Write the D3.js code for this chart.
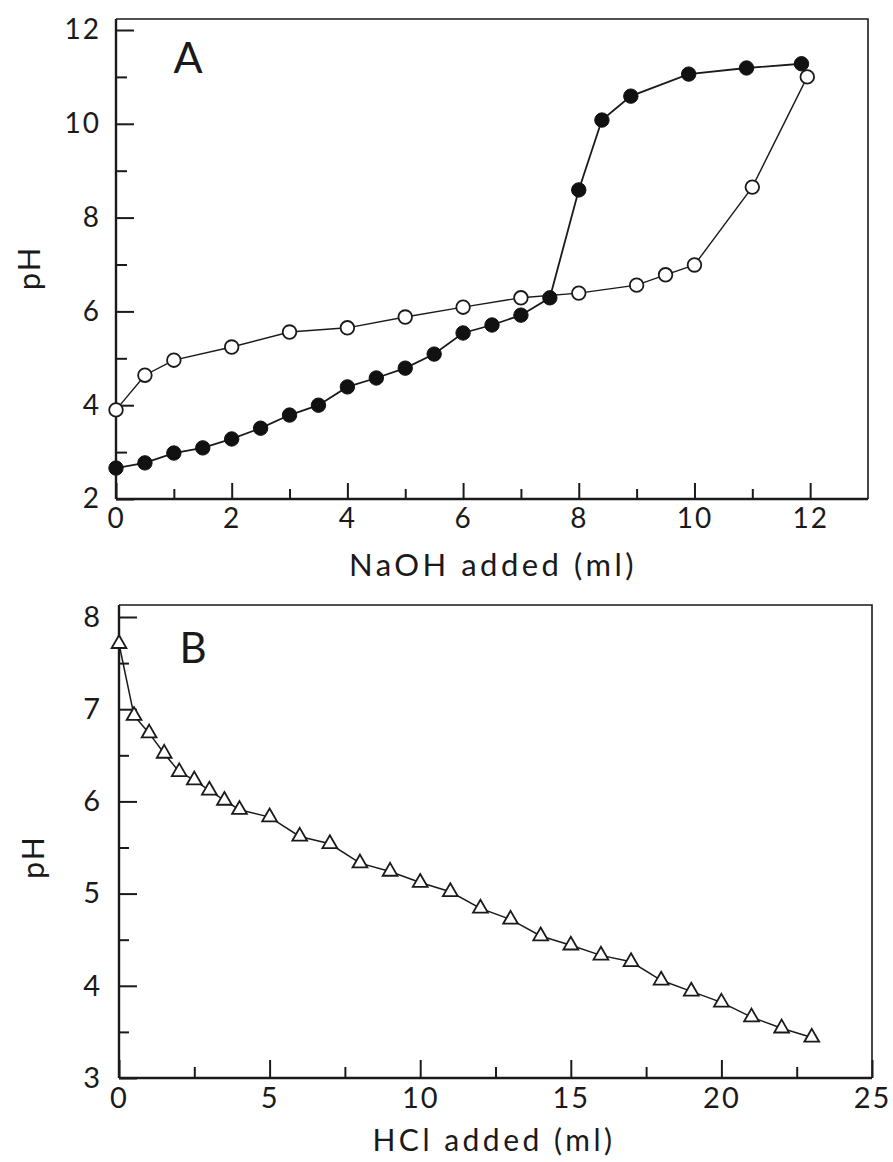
<!DOCTYPE html>
<html>
<head>
<meta charset="utf-8">
<script src="https://cdn.jsdelivr.net/npm/d3@7"></script>
<style>
  html, body { margin: 0; padding: 0; background: #fff; }
  svg { display: block; }
  text { font-family: Lato, "Open Sans", sans-serif; fill: #1a1a1a; }
</style>
</head>
<body>
<svg id="chart" width="893" height="1162"></svg>
<script>
// ---------- Panel A data ----------
const naohFilledX = [0, 0.5, 1, 1.5, 2, 2.5, 3, 3.5, 4, 4.5, 5, 5.5, 6, 6.5, 7, 7.5, 8, 8.4, 8.9, 9.9, 10.9, 11.85];
const naohFilledPH = [2.66, 2.77, 2.98, 3.09, 3.28, 3.51, 3.79, 4.0, 4.39, 4.58, 4.79, 5.09, 5.54, 5.71, 5.92, 6.29, 8.59, 10.08, 10.59, 11.06, 11.19, 11.28];
const naohOpenX = [0, 0.5, 1, 2, 3, 4, 5, 6, 7, 8, 9, 9.5, 10, 11, 11.95];
const naohOpenPH = [3.9, 4.64, 4.96, 5.24, 5.56, 5.65, 5.88, 6.09, 6.29, 6.39, 6.56, 6.78, 6.99, 8.65, 11.0];
const aXTicks = [0, 2, 4, 6, 8, 10, 12];
const aXMinor = [1, 3, 5, 7, 9, 11];
const aYTicks = [2, 4, 6, 8, 10, 12];
const aYMinor = [3, 5, 7, 9, 11];

// ---------- Panel B data ----------
const hclX = [0, 0.5, 1, 1.5, 2, 2.5, 3, 3.5, 4, 5, 6, 7, 8, 9, 10, 11, 12, 13, 14, 15, 16, 17, 18, 19, 20, 21, 22, 23];
const hclPH = [7.71, 6.93, 6.74, 6.52, 6.32, 6.23, 6.12, 6.01, 5.91, 5.83, 5.62, 5.54, 5.33, 5.24, 5.12, 5.02, 4.84, 4.72, 4.54, 4.44, 4.33, 4.26, 4.06, 3.94, 3.82, 3.66, 3.54, 3.44];
const bXTicks = [0, 5, 10, 15, 20, 25];
const bXMinor = [2.5, 7.5, 12.5, 17.5, 22.5];
const bYTicks = [3, 4, 5, 6, 7, 8];
const bYMinor = [3.5, 4.5, 5.5, 6.5, 7.5];

const svg = d3.select("#chart");
const ink = "#1a1a1a";

function panel(cfg) {
  const g = svg.append("g");
  const x = d3.scaleLinear().domain(cfg.xDomain).range([cfg.left, cfg.right]);
  const y = d3.scaleLinear().domain(cfg.yDomain).range([cfg.bottom, cfg.yTopTick]);

  g.append("path")
    .attr("d", `M${cfg.left},${cfg.frameTop} H${cfg.right} V${cfg.bottom}`)
    .attr("fill", "none").attr("stroke", ink).attr("stroke-width", 1.6);

  const xAx = g.append("g").attr("transform", `translate(0,${cfg.bottom})`)
    .call(d3.axisBottom(x).tickValues(cfg.xTicks).tickSize(-cfg.majX).tickPadding(cfg.xPad).tickFormat(d3.format("d")));
  g.append("g").attr("transform", `translate(0,${cfg.bottom})`)
    .call(d3.axisBottom(x).tickValues(cfg.xMinor).tickSize(-cfg.minX).tickFormat(""))
    .call(s => s.select(".domain").remove());

  const yAx = g.append("g").attr("transform", `translate(${cfg.left},0)`)
    .call(d3.axisLeft(y).tickValues(cfg.yTicks).tickSize(-cfg.majY).tickPadding(cfg.yPad).tickFormat(d3.format("d")));
  g.append("g").attr("transform", `translate(${cfg.left},0)`)
    .call(d3.axisLeft(y).tickValues(cfg.yMinor).tickSize(-cfg.minY).tickFormat(""))
    .call(s => s.select(".domain").remove());

  g.selectAll(".domain").attr("stroke", ink).attr("stroke-width", 2.4);
  g.selectAll(".tick line").attr("stroke", ink).attr("stroke-width", 2);
  g.selectAll(".tick text").attr("fill", ink).style("font-size", cfg.tickFont + "px")
    .style("font-family", "Lato, sans-serif").style("letter-spacing", "2px");
  yAx.select(".domain").attr("d", `M0,${cfg.bottom}V${cfg.frameTop}`);
  xAx.select(".domain").attr("d", `M${cfg.left},0H${cfg.right}`);

  g.append("text").attr("x", cfg.titleX).attr("y", cfg.titleY).attr("text-anchor", "middle")
    .style("font-size", cfg.titleFont + "px").style("letter-spacing", "3.5px").text(cfg.xTitle);
  g.append("text").attr("transform", `translate(${cfg.phX},${cfg.phY}) rotate(-90)`)
    .attr("text-anchor", "middle").attr("dy", "0.35em")
    .style("font-size", cfg.titleFont + "px").style("letter-spacing", "2px").text("pH");
  g.append("text").attr("x", cfg.letterX).attr("y", cfg.letterY).attr("text-anchor", "middle")
    .style("font-size", cfg.letterFont + "px").text(cfg.letter);

  return { g, x, y };
}

// ---------- Panel A ----------
const A = panel({
  xDomain: [0, 13], yDomain: [2, 12],
  left: 116, right: 868, bottom: 499, yTopTick: 30, frameTop: 19,
  xTicks: aXTicks, xMinor: aXMinor, yTicks: aYTicks, yMinor: aYMinor,
  majX: 16, minX: 10, majY: 18, minY: 11, xPad: 9, yPad: 15,
  tickFont: 28, titleFont: 31, xTitle: "NaOH added (ml)",
  titleX: 493, titleY: 576, phX: 29, phY: 268,
  letter: "A", letterX: 188, letterY: 73, letterFont: 43
});

const lineA = d3.line().x(d => A.x(d[0])).y(d => A.y(d[1]));
const filledA = naohFilledX.map((v, i) => [v, naohFilledPH[i]]);
const openA = naohOpenX.map((v, i) => [v, naohOpenPH[i]]);

A.g.append("path").datum(openA).attr("d", lineA).attr("fill", "none").attr("stroke", ink).attr("stroke-width", 1.4);
A.g.append("path").datum(filledA).attr("d", lineA).attr("fill", "none").attr("stroke", ink).attr("stroke-width", 1.8);
A.g.selectAll("circle.filled").data(filledA).join("circle").attr("class", "filled")
  .attr("cx", d => A.x(d[0])).attr("cy", d => A.y(d[1])).attr("r", 7.2)
  .attr("fill", "#111").attr("stroke", "#111").attr("stroke-width", 1);
A.g.selectAll("circle.open").data(openA).join("circle").attr("class", "open")
  .attr("cx", d => A.x(d[0])).attr("cy", d => A.y(d[1])).attr("r", 6.8)
  .attr("fill", "#fff").attr("stroke", ink).attr("stroke-width", 1.8);

// ---------- Panel B ----------
const B = panel({
  xDomain: [0, 25], yDomain: [3, 8],
  left: 119, right: 872, bottom: 1078, yTopTick: 617, frameTop: 605,
  xTicks: bXTicks, xMinor: bXMinor, yTicks: bYTicks, yMinor: bYMinor,
  majX: 18, minX: 11, majY: 18, minY: 10, xPad: 9, yPad: 17,
  tickFont: 29, titleFont: 30, xTitle: "HCl added (ml)",
  titleX: 494, titleY: 1151, phX: 33, phY: 857,
  letter: "B", letterX: 193, letterY: 663, letterFont: 42
});

const lineB = d3.line().x(d => B.x(d[0])).y(d => B.y(d[1]));
const hcl = hclX.map((v, i) => [v, hclPH[i]]);
B.g.append("path").datum(hcl).attr("d", lineB).attr("fill", "none").attr("stroke", ink).attr("stroke-width", 1.5);
const tri = d3.symbol().type(d3.symbolTriangle).size(95);
B.g.selectAll("path.tri").data(hcl).join("path").attr("class", "tri")
  .attr("transform", d => `translate(${B.x(d[0])},${B.y(d[1])})`)
  .attr("d", tri).attr("fill", "#fff").attr("stroke", ink).attr("stroke-width", 1.8);
</script>
</body>
</html>
